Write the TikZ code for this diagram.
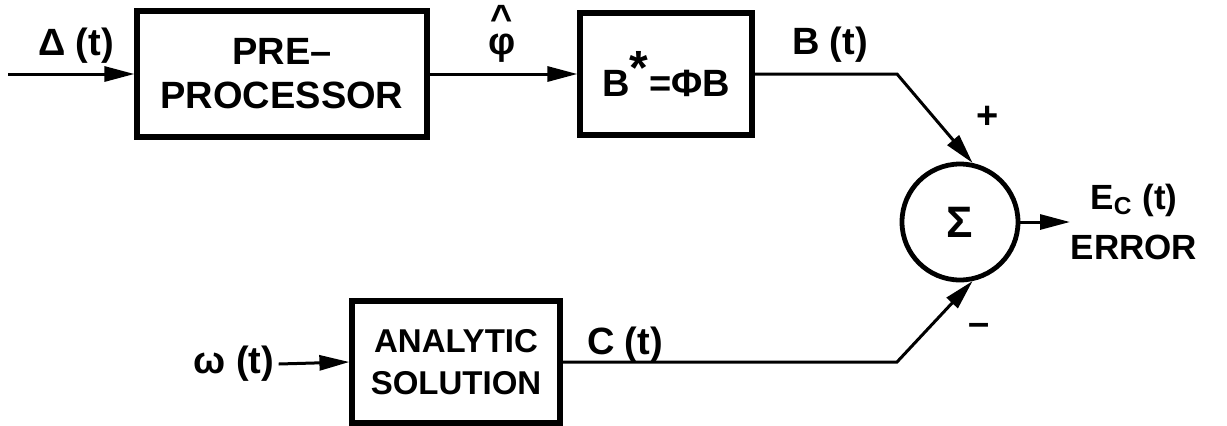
\documentclass[tikz,border=0pt]{standalone}
\usepackage{fontspec}
\setmainfont{Liberation Sans}
\usetikzlibrary{arrows.meta,positioning}

\tikzset{
  blockbox/.style={draw, line width=2.6pt, align=center, inner sep=0pt},
  sumnode/.style={draw, circle, line width=2.4pt, minimum size=58pt, inner sep=0pt},
  sigline/.style={line width=1.5pt, -{Triangle[length=15pt,width=7.5pt]}},
  sigtext/.style={inner sep=0pt, font=\bfseries\fontsize{19}{22}\selectfont},
}

\begin{document}
\begin{tikzpicture}[x=0.5pt,y=-0.5pt,font=\bfseries\fontsize{19}{22}\selectfont]
\useasboundingbox (0,0) rectangle (1227,425);

% Blocks
\node [blockbox, minimum width=145pt, minimum height=63pt] (pre) at (282,74) {PRE--\\PROCESSOR};
\node [blockbox, minimum width=86pt, minimum height=61pt] (bstar) at (666,74) {B\textsuperscript{\fontsize{24}{24}\selectfont *}=ΦB};
\node [blockbox, minimum width=104pt, minimum height=61pt, font=\bfseries\fontsize{16.5}{21}\selectfont] (ana) at (456,362) {ANALYTIC\\SOLUTION};
\node [sumnode] (sum) at (960,222) {\fontsize{22}{22}\selectfont Σ};

% Corners and free ends
\coordinate (in) at (8,74);
\coordinate (cb) at (897,74);
\coordinate (cc) at (897,362);
\coordinate (out) at (1070,222);

% Labels
\node [sigtext] (delta) at (76,46) {Δ (t)};
\node [sigtext] (phi) at (502,48) {φ};
\node [sigtext, above=1pt of phi] (hat) {\textasciicircum};
\node [sigtext] (bt) at (830,45) {B (t)};
\node [sigtext] (ct) at (625,345) {C (t)};
\node [sigtext] (omega) at (234,364) {ω (t)};
\node [sigtext] (plus) at (988,117) {+};
\node [sigtext] (minus) at (979,329) {--};
\node [sigtext, align=center, font=\bfseries\fontsize{17.5}{21}\selectfont] (err) at (1134,222) {E\textsubscript{C} (t)\\[4pt]ERROR};

% Connectors
\draw [sigline] (in) -- (pre.west);
\draw [sigline] (pre.east) -- (bstar.west);
\draw [sigline] (bstar.east) -- (cb) -- (sum.78);
\draw [sigline] (omega.east) ++(2pt,0) -- (ana.west);
\draw [sigline] (ana.east) -- (cc) -- (sum.-78);
\draw [sigline] (sum.east) -- (out);

\end{tikzpicture}
\end{document}
